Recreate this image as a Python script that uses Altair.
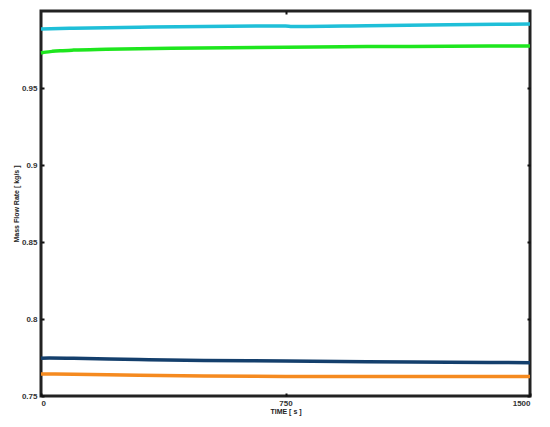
import altair as alt
import pandas as pd

series_names = ["cyan", "green", "navy", "orange"]
series_colors = ["#1fbfd8", "#1ee61e", "#143f6c", "#f58a1f"]

cyan_t = [0, 100, 300, 500, 750, 770, 1000, 1250, 1500]
cyan_v = [0.9883, 0.9888, 0.9895, 0.9900, 0.9903, 0.9900, 0.9905, 0.9911, 0.9915]

green_t = [0, 15, 35, 60, 100, 200, 400, 750, 1000, 1250, 1500]
green_v = [0.9727, 0.9733, 0.9738, 0.9742, 0.9746, 0.9751, 0.9758, 0.9765, 0.9769, 0.9771, 0.9773]

navy_t = [0, 25, 100, 300, 500, 750, 1000, 1250, 1500]
navy_v = [0.7745, 0.7747, 0.7745, 0.7737, 0.7731, 0.7727, 0.7722, 0.7719, 0.7716]

orange_t = [0, 100, 300, 500, 750, 1000, 1250, 1500]
orange_v = [0.7643, 0.7641, 0.7634, 0.7630, 0.7627, 0.7626, 0.7626, 0.7627]

x_ticks = [0, 750, 1500]
y_ticks = [0.75, 0.8, 0.85, 0.9, 0.95]

rows = []
for name, ts, vs in zip(series_names, [cyan_t, green_t, navy_t, orange_t],
                        [cyan_v, green_v, navy_v, orange_v]):
    for t, v in zip(ts, vs):
        rows.append({"series": name, "t": t, "v": v})
df = pd.DataFrame(rows)

lab = dict(labelFont="Liberation Sans", labelFontSize=8, labelFontWeight="bold",
           labelColor="#333333", domain=False, grid=False,
           tickColor="#111111", tickWidth=2, tickSize=3, offset=-3)
ttl = dict(titleFont="Liberation Sans", titleFontSize=7,
           titleFontWeight="bold", titleColor="#222222")

xs = alt.Scale(domain=[0, 1500], nice=False, zero=False)
ys = alt.Scale(domain=[0.75, 1.0], nice=False, zero=False)
cs = alt.Scale(domain=series_names, range=series_colors)

lines = alt.Chart(df).mark_line(strokeWidth=3.5, interpolate="monotone").encode(
    x=alt.X("t:Q", scale=xs, axis=alt.Axis(values=x_ticks, format="d", title="TIME [ s ]",
                                            labelPadding=3, titlePadding=0, **lab, **ttl)),
    y=alt.Y("v:Q", scale=ys, axis=alt.Axis(values=y_ticks, format="~g",
                                            title="Mass Flow Rate [ kg/s ]",
                                            labelPadding=4, titlePadding=2, **lab, **ttl)),
    color=alt.Color("series:N", scale=cs, legend=None),
    detail="series:N",
)

mirror = alt.Chart(df).mark_line(opacity=0).encode(
    x=alt.X("t:Q", scale=xs, axis=alt.Axis(values=[750], orient="top", labels=False,
                                            title=None, **lab)),
    y=alt.Y("v:Q", scale=ys, axis=alt.Axis(values=y_ticks, orient="right", labels=False,
                                            title=None, **lab)),
    detail="series:N",
)

chart = alt.layer(lines, mirror).resolve_axis(x="independent", y="independent").properties(
    width=489, height=385,
    autosize=alt.AutoSizeParams(type="none"),
    padding={"left": 33, "top": 3, "right": 12, "bottom": 23},
    background="white",
).configure_view(stroke="#222222", strokeWidth=3)

chart.save("out.html", embed_options={"renderer": "svg", "actions": False})
